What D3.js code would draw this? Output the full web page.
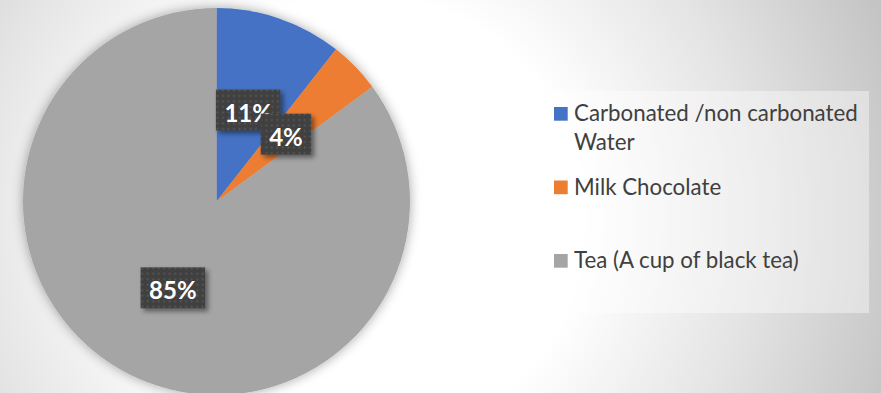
<!DOCTYPE html>
<html>
<head>
<meta charset="utf-8">
<script src="https://cdn.jsdelivr.net/npm/d3@7"></script>
<style>
  html, body { margin: 0; padding: 0; overflow: hidden; }
  svg { display: block; }
</style>
</head>
<body>
<svg id="chart" width="881" height="393"></svg>
<script>
// data
const categories = ["Carbonated /non carbonated Water", "Milk Chocolate", "Tea (A cup of black tea)"];
const values = [10.6, 4.3, 85.1];
const colors = ["#4472c4", "#ed7d31", "#a5a5a5"];

const W = 881, H = 393;
const cx = 216.5, cy = 201.5, R = 193.5;

const svg = d3.select("#chart");
const defs = svg.append("defs");

// background gradient
const bg = defs.append("radialGradient").attr("id", "bg")
  .attr("gradientUnits", "userSpaceOnUse")
  .attr("cx", 360).attr("cy", 220).attr("r", 560);
bg.append("stop").attr("offset", 0).attr("stop-color", "#ffffff");
bg.append("stop").attr("offset", 0.4).attr("stop-color", "#ffffff");
bg.append("stop").attr("offset", 0.7).attr("stop-color", "#e4e4e4");
bg.append("stop").attr("offset", 1).attr("stop-color", "#c4c4c4");

// soft halo round the pie
defs.append("filter").attr("id", "pieShadow")
  .attr("x", "-20%").attr("y", "-20%").attr("width", "140%").attr("height", "140%")
  .append("feDropShadow")
  .attr("dx", 0).attr("dy", 0).attr("stdDeviation", 6)
  .attr("flood-color", "#000").attr("flood-opacity", 0.35);

// label box shadow
defs.append("filter").attr("id", "boxShadow")
  .attr("x", "-30%").attr("y", "-30%").attr("width", "160%").attr("height", "160%")
  .append("feDropShadow")
  .attr("dx", 3).attr("dy", 3).attr("stdDeviation", 2.5)
  .attr("flood-color", "#000").attr("flood-opacity", 0.45);

// dotted fill for label boxes
const dots = defs.append("pattern").attr("id", "dots")
  .attr("patternUnits", "userSpaceOnUse")
  .attr("width", 5.5).attr("height", 5.5);
dots.append("rect").attr("width", 5.5).attr("height", 5.5).attr("fill", "#404040");
dots.append("rect").attr("x", 1.5).attr("y", 1.5).attr("width", 1.7).attr("height", 1.7).attr("fill", "#5c5c5c");

svg.append("rect").attr("width", W).attr("height", H).attr("fill", "url(#bg)");

/* Pie */
const pie = d3.pie().sort(null).value(d => d.value);
const arcs = pie(values.map((v, i) => ({ value: v, i })));
const arc = d3.arc().innerRadius(0).outerRadius(R);
const total = d3.sum(values);

const g = svg.append("g").attr("transform", `translate(${cx},${cy})`);

g.append("g").attr("filter", "url(#pieShadow)")
  .selectAll("path")
  .data(arcs)
  .join("path")
  .attr("d", arc)
  .attr("fill", d => colors[d.data.i]);

// data labels
const labels = g.selectAll("g.lbl")
  .data(arcs)
  .join("g")
  .attr("class", "lbl")
  .attr("transform", d => `translate(${arc.centroid(d)})`);

labels.each(function(d) {
  const sel = d3.select(this);
  const box = sel.append("rect").attr("fill", "url(#dots)").attr("filter", "url(#boxShadow)");
  const t = sel.append("text")
    .attr("text-anchor", "middle")
    .attr("dominant-baseline", "central")
    .attr("dy", 2)
    .attr("fill", "#ffffff")
    .style("font-family", "Lato, 'Open Sans', sans-serif")
    .style("font-weight", "bold")
    .style("font-size", "24px")
    .text(Math.round(d.data.value / total * 100) + "%");
  const w = t.node().getComputedTextLength() + 17;
  const h = 41;
  box.attr("x", -w / 2).attr("y", -h / 2).attr("width", w).attr("height", h);
});

/* Legend */
const legend = svg.append("g");
legend.append("rect")
  .attr("x", 541).attr("y", 91).attr("width", 328).attr("height", 222)
  .attr("fill", "#ffffff").attr("fill-opacity", 0.4);

const legendY = d3.scalePoint().domain(d3.range(categories.length)).range([107, 254]);
const maxTextW = 295;

const items = legend.selectAll("g.item")
  .data(categories)
  .join("g")
  .attr("class", "item")
  .attr("transform", (d, i) => `translate(554,${legendY(i)})`);

items.append("rect")
  .attr("width", 13.7).attr("height", 13.7)
  .attr("fill", (d, i) => colors[i]);

items.each(function(d) {
  const t = d3.select(this).append("text")
    .attr("x", 20)
    .attr("y", 14)
    .attr("fill", "#404040")
    .style("font-family", "Lato, 'Open Sans', sans-serif")
    .style("font-size", "22.3px");
  // simple word wrap
  const words = d.split(" ");
  let line = [];
  let ts = t.append("tspan").attr("x", 20).attr("dy", 0);
  words.forEach(w => {
    line.push(w);
    ts.text(line.join(" "));
    if (ts.node().getComputedTextLength() > maxTextW && line.length > 1) {
      line.pop();
      ts.text(line.join(" "));
      line = [w];
      ts = t.append("tspan").attr("x", 20).attr("dy", 29).text(w);
    }
  });
});
</script>
</body>
</html>
